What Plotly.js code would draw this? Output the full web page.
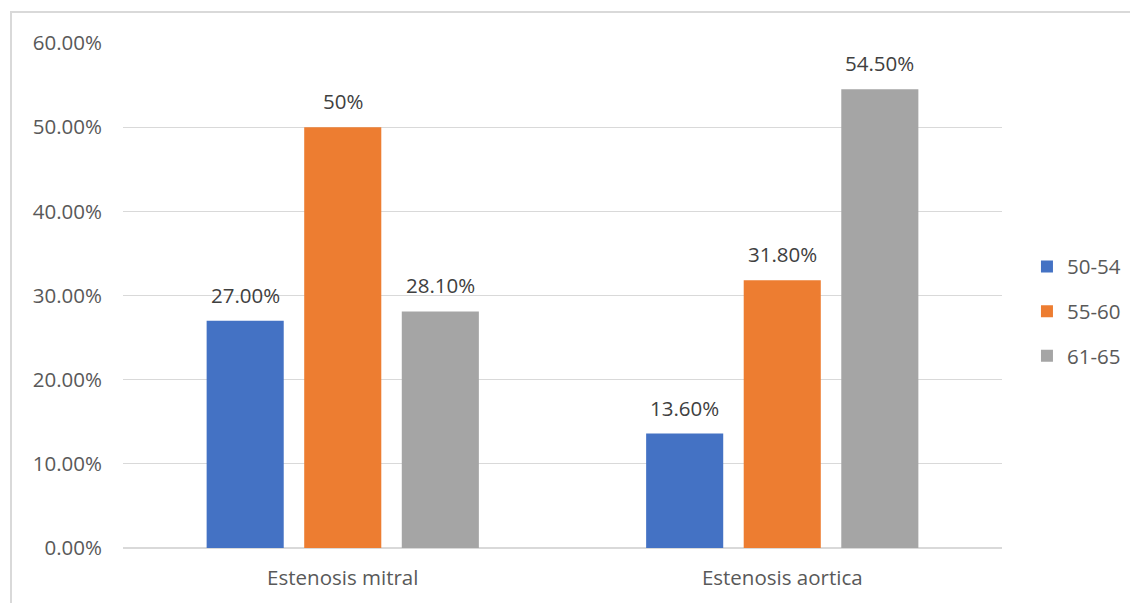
<!DOCTYPE html>
<html>
<head>
<meta charset="utf-8">
<script src="https://cdn.plot.ly/plotly-3.0.1.min.js"></script>
<style>
  html, body { margin: 0; padding: 0; background: #ffffff; overflow: hidden; }
  #chart { width: 1130px; height: 603px; }
  #frame { position: absolute; left: 10px; top: 11px; width: 1200px; height: 700px;
           border-left: 2px solid #d9d9d9; border-top: 2px solid #d9d9d9; pointer-events: none; }
</style>
</head>
<body>
<div id="chart"></div>
<div id="frame"></div>
<script>
const categories = ["Estenosis mitral", "Estenosis aortica"];
const seriesNames = ["50-54", "55-60", "61-65"];
const values_50_54 = [0.27, 0.136];
const values_55_60 = [0.50, 0.318];
const values_61_65 = [0.281, 0.545];
const labels_50_54 = ["27.00%", "13.60%"];
const labels_55_60 = ["50%", "31.80%"];
const labels_61_65 = ["28.10%", "54.50%"];
const yTickVals = [0, 0.1, 0.2, 0.3, 0.4, 0.5, 0.6];
const yTickText = ["0.00%", "10.00%", "20.00%", "30.00%", "40.00%", "50.00%", "60.00%"];

const colors = ["#4472C4", "#ED7D31", "#A5A5A5"];
const font = "Open Sans, Noto Sans, sans-serif";
const fs = 20.5;
const allValues = [values_50_54, values_55_60, values_61_65];
const allLabels = [labels_50_54, labels_55_60, labels_61_65];

const bargap = 0.334;
const nSeries = seriesNames.length;
const slot = (1 - bargap) / nSeries;

const traces = seriesNames.map((name, i) => ({
  type: "bar",
  name: name,
  x: categories,
  y: allValues[i],
  marker: { color: colors[i] },
  legendgroup: "g" + i,
  hoverinfo: "x+y+name"
}));

const annotations = [];
seriesNames.forEach((name, i) => {
  categories.forEach((cat, c) => {
    annotations.push({
      xref: "x", yref: "y",
      x: c + (i - (nSeries - 1) / 2) * slot,
      y: allValues[i][c],
      text: allLabels[i][c],
      showarrow: false,
      xanchor: "center", yanchor: "bottom",
      yshift: 10,
      font: { family: font, size: fs, color: "#404040" }
    });
  });
});

const layout = {
  width: 1130, height: 603,
  margin: { l: 123, r: 128, t: 43, b: 55, autoexpand: false },
  paper_bgcolor: "#ffffff",
  plot_bgcolor: "#ffffff",
  barmode: "group",
  bargap: bargap,
  bargroupgap: 0.21,
  font: { family: font, size: fs, color: "#595959" },
  annotations: annotations,
  xaxis: {
    type: "category",
    showgrid: false,
    showline: false,
    ticks: "",
    ticklabelstandoff: 15,
    tickfont: { family: font, size: fs, color: "#595959" }
  },
  yaxis: {
    range: [0, 0.6],
    tickvals: yTickVals,
    ticktext: yTickText,
    showgrid: true,
    gridcolor: "#d9d9d9",
    gridwidth: 1,
    zeroline: true,
    zerolinecolor: "#d9d9d9",
    zerolinewidth: 2,
    showline: false,
    ticks: "",
    ticklabelstandoff: 20,
    tickfont: { family: font, size: fs, color: "#595959" }
  },
  showlegend: true,
  legend: {
    x: 1.0284, xanchor: "left",
    y: 0.469, yanchor: "middle",
    traceorder: "grouped",
    tracegroupgap: 15,
    font: { family: font, size: fs, color: "#595959" },
    bgcolor: "rgba(0,0,0,0)"
  }
};

Plotly.newPlot("chart", traces, layout, { displayModeBar: false, staticPlot: true });
</script>
</body>
</html>
